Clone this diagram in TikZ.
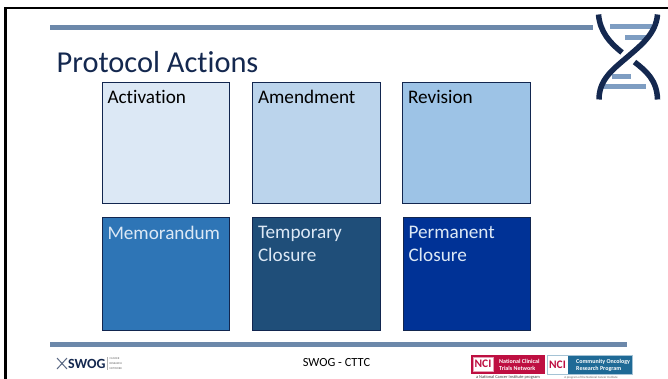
\documentclass[tikz,border=0pt]{standalone}
\usepackage{fontspec}
\setmainfont[Ligatures=NoCommon]{Carlito}
\definecolor{navy}{HTML}{14284F}
\definecolor{rulec}{HTML}{6C88AA}
\definecolor{barc}{HTML}{7E9DC2}
\definecolor{boxedge}{HTML}{12264F}
\definecolor{fa}{HTML}{DCE8F5}
\definecolor{fb}{HTML}{BBD4EC}
\definecolor{fc}{HTML}{9DC3E6}
\definecolor{fd}{HTML}{2E75B6}
\definecolor{fe}{HTML}{1F4E79}
\definecolor{ff}{HTML}{003296}
\definecolor{ncired}{HTML}{BE0F41}
\definecolor{nciblue}{HTML}{1F6A96}
\tikzset{
 actbox/.style={draw=boxedge,line width=0.7pt,minimum width=127.5pt,inner sep=0pt,outer sep=0pt,anchor=north west},
 actlabel/.style={anchor=north west,inner sep=0pt,outer sep=0pt,font=\fontsize{19.2pt}{23.2pt}\selectfont,align=left},
 rulebar/.style={fill=rulec,draw=none},
 dnabar/.style={fill=barc,draw=none},
 strand/.style={draw=navy,line width=5.5pt,line cap=butt},
 ncitext/.style={text=white,font=\fontsize{6pt}{7pt}\selectfont\bfseries,align=left,inner sep=0pt,anchor=west},
 ncilogo/.style={font=\fontsize{11.5pt}{12pt}\selectfont\bfseries,inner sep=0pt,fill=white,minimum width=20pt,minimum height=14pt},
 tinytext/.style={font=\fontsize{2.9pt}{5pt}\selectfont,text=black!60,inner sep=0pt}
}
\begin{document}
\begin{tikzpicture}[x=1pt,y=-1pt]
\useasboundingbox (0,0) rectangle (668,379);
\fill[white] (0,0) rectangle (668,379);
% slide frame
\draw[black,line width=2.2pt] (5.5,379) -- (5.5,8) -- (668,8);
% rules
\fill[rulebar] (50,25) rectangle (593,30);
\fill[rulebar] (50,342) rectangle (627,346.5);
% title
\node[anchor=base west,inner sep=0pt,text=navy,font=\fontsize{30.4pt}{32pt}\selectfont] (title) at (56.5,72.5) {Protocol Actions};
% boxes
\node[actbox,fill=fa,minimum height=121pt] (b1) at (102,82) {};
\node[actbox,fill=fb,minimum height=121pt] (b2) at (252.5,82) {};
\node[actbox,fill=fc,minimum height=121pt] (b3) at (402.5,82) {};
\node[actbox,fill=fd,minimum height=113pt] (b4) at (102,217.5) {};
\node[actbox,fill=fe,minimum height=113pt] (b5) at (252.5,217.5) {};
\node[actbox,fill=ff,minimum height=113pt] (b6) at (403,217.5) {};
\node[actlabel] (t1) at (107.5,90.3) {Activation};
\node[actlabel] (t2) at (258,90.3) {Amendment};
\node[actlabel] (t3) at (408,90.3) {Revision};
\node[actlabel,text=fa] (t4) at (107.5,225.7) {Memorandum};
\node[actlabel,text=fa] (t5) at (258,225.7) {Temporary\\Closure};
\node[actlabel,text=fa] (t6) at (408.5,225.7) {Permanent\\Closure};
% DNA icon
\fill[dnabar] (610,24.5) rectangle (652,29.5);
\fill[dnabar] (625,35.5) rectangle (647,40.5);
\fill[dnabar] (612,74.5) rectangle (631,79.5);
\fill[dnabar] (603,84.5) rectangle (646,89.5);
\draw[strand] (657.5,14.5) .. controls (656,34) and (640,46) .. (628,56.5) .. controls (612,70) and (599,80) .. (599,99.5);
\draw[strand] (598.5,14.5) .. controls (600,32) and (610,43) .. (622,52.5);
\draw[strand] (634.5,62) .. controls (646,71) and (657,80) .. (657.5,99.5);
% footer
\node[font=\fontsize{12.4pt}{13pt}\selectfont,inner sep=0pt] (foot) at (336.5,363) {SWOG - CTTC};
% SWOG logo
\draw[navy!70,line width=1pt] (57,358) -- (67,369) (67,358) -- (57,369);
\node[anchor=west,inner sep=0pt,text=navy,font=\fontsize{14pt}{14pt}\selectfont\bfseries] (swog) at (68,363.5) {SWOG};
\draw[black!30,line width=0.4pt] (107.5,357) -- (107.5,370);
\node[tinytext,anchor=west,align=left] (net) at (109.5,363.5) {CANCER\\RESEARCH\\NETWORK};
% NCI badges
\fill[ncired] (471,355) rectangle (545,374);
\node[ncilogo,text=ncired,draw=ncired!40,line width=0.5pt] (nci1) at (483,364) {NCI};
\node[ncitext] (nct) at (499,365) {National Clinical\\Trials Network};
\fill[nciblue] (568,355) rectangle (632,374);
\fill[white] (547.5,355) rectangle (568,374);
\draw[nciblue!40,line width=0.5pt] (547.5,355) rectangle (632,374);
\node[ncilogo,text=ncired,minimum width=19pt] (nci2) at (557.5,365) {NCI};
\node[ncitext] (ncp) at (576,365) {Community Oncology\\Research Program};
\node[tinytext,font=\fontsize{4.4pt}{5pt}\selectfont,text=black!75] (sub1) at (508,377.5) {a National Cancer Institute program};
\node[tinytext,font=\fontsize{3.1pt}{4pt}\selectfont] (sub2) at (591,377.5) {A program of the National Cancer Institute};
\end{tikzpicture}
\end{document}
